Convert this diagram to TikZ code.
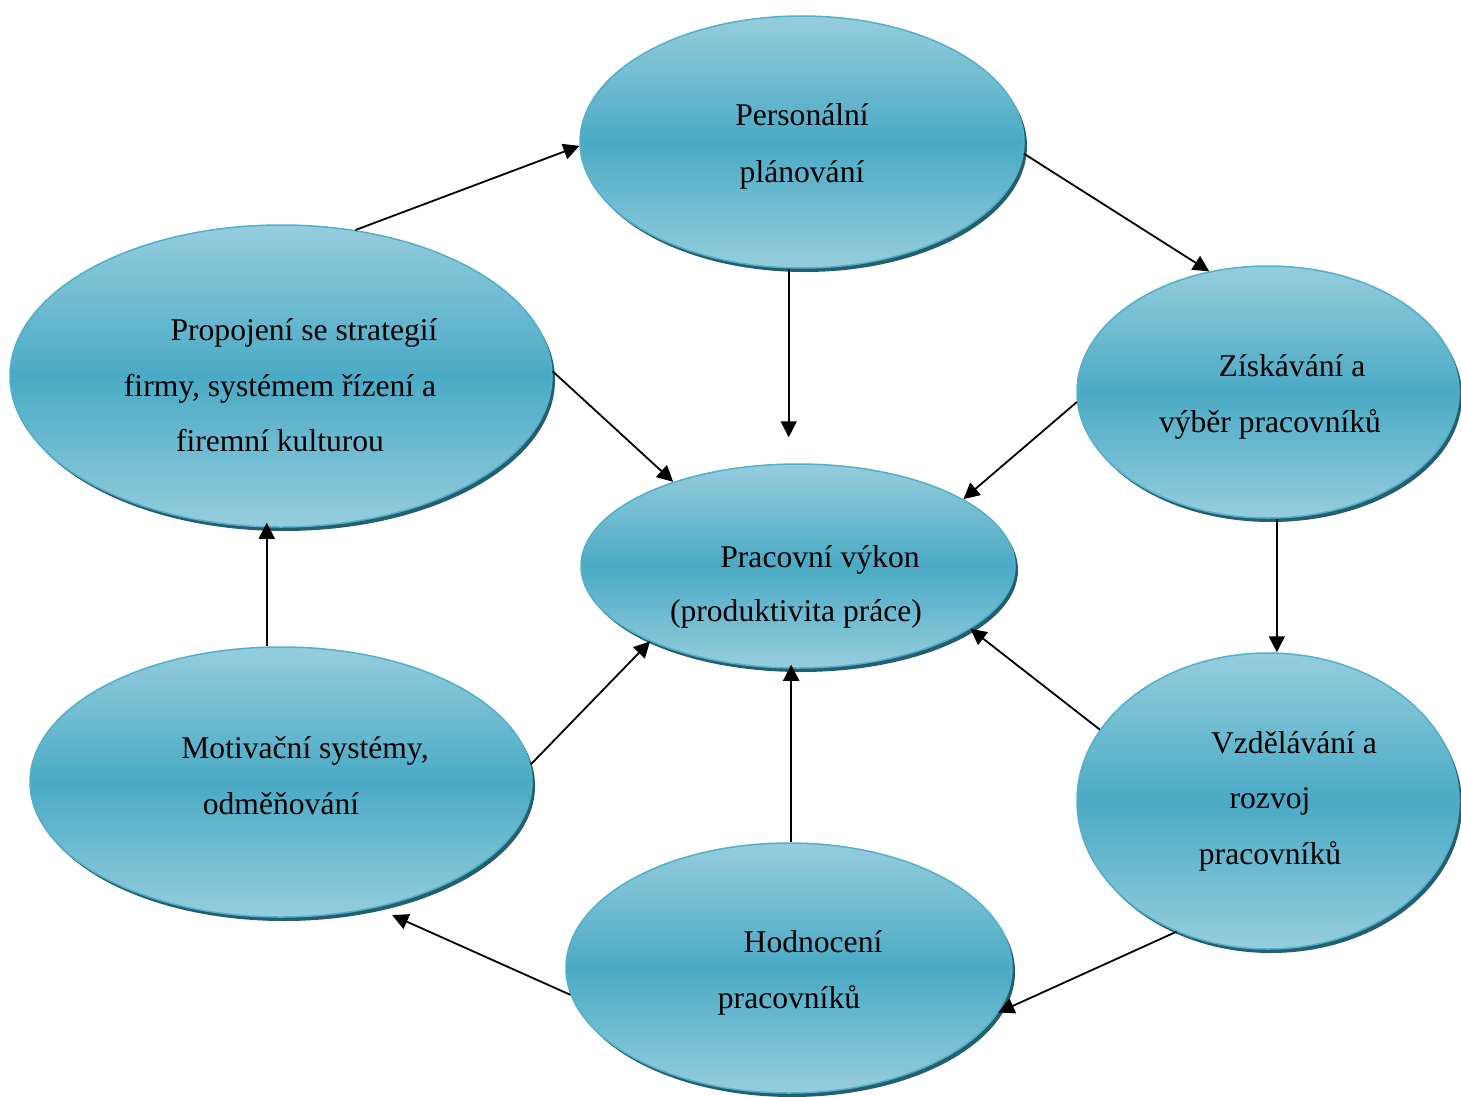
\documentclass[tikz,border=0pt]{standalone}
\usepackage{fontspec}
\setmainfont{Liberation Serif}
\usetikzlibrary{shapes.geometric,shadows,arrows.meta}
\definecolor{lightc}{HTML}{96CDDD}
\definecolor{midc}{HTML}{4AAAC5}
\definecolor{rimc}{HTML}{52B0C9}
\definecolor{shadc}{HTML}{245F6F}
\tikzset{
  oval/.style={ellipse, inner sep=0pt, draw=rimc, line width=1.5pt,
    top color=lightc, bottom color=lightc, middle color=midc,
    drop shadow={shadow xshift=3pt, shadow yshift=-4pt, fill=shadc, opacity=1}},
  lbl/.style={anchor=base, inner sep=0pt, font=\fontsize{31.6}{40}\selectfont},
  arr/.style={-{Triangle[length=16pt,width=16pt]}, line width=1.8pt, black}
}
\begin{document}
\begin{tikzpicture}[x=1pt,y=-1pt]
\useasboundingbox (0,0) rectangle (1461,1097);
% ellipses
\node[oval, minimum width=444pt, minimum height=252pt] (PL) at (802,142) {};
\node[oval, minimum width=542pt, minimum height=302pt] (P) at (281,376) {};
\node[oval, minimum width=382pt, minimum height=252pt] (Z) at (1268,392) {};
\node[oval, minimum width=434pt, minimum height=204pt] (V) at (798,566) {};
\node[oval, minimum width=502pt, minimum height=270pt] (M) at (281,782) {};
\node[oval, minimum width=382pt, minimum height=296pt] (VZ) at (1268,801) {};
\node[oval, minimum width=446pt, minimum height=250pt] (H) at (789,968) {};
% labels
\node[lbl] (tPLa) at (802,126) {Personální};
\node[lbl] (tPLb) at (802,182) {plánování};
\node[lbl] (tPa) at (304,340) {Propojení se strategií};
\node[lbl] (tPb) at (280,396) {firmy, systémem řízení a};
\node[lbl] (tPc) at (280,451) {firemní kulturou};
\node[lbl] (tZa) at (1292,376) {Získávání a};
\node[lbl] (tZb) at (1270,432) {výběr pracovníků};
\node[lbl] (tVa) at (820,567) {Pracovní výkon};
\node[lbl] (tVb) at (796,621) {(produktivita práce)};
\node[lbl] (tMa) at (305,758) {Motivační systémy,};
\node[lbl] (tMb) at (281,814) {odměňování};
\node[lbl] (tVZa) at (1294,753) {Vzdělávání a};
\node[lbl] (tVZb) at (1270,808) {rozvoj};
\node[lbl] (tVZc) at (1270,864) {pracovníků};
\node[lbl] (tHa) at (813,952) {Hodnocení};
\node[lbl] (tHb) at (789,1008) {pracovníků};
% connectors
\draw[arr] (P.63.9) -- (PL.181);
\draw[arr] (PL.357) -- (Z.116.7);
\draw[arr, shorten >=26pt] (PL.264.6) -- (PL.264.6 |- V.north);
\draw[arr] (P.1.3) -- (V.146.3);
\draw[arr] (Z.183) -- (V.22.8);
\draw[arr] (Z.274) -- (Z.274 |- VZ.north);
\draw[arr] (VZ.157.9) -- (V.340.4);
\draw[arr] (VZ.235) -- (H.348.6);
\draw[arr, shorten >=-4pt] (H.89.5) -- (H.89.5 |- V.south);
\draw[arr, shorten >=18pt] (H.187.4) -- (M.307.3);
\draw[arr] (M.4.3) -- (V.207.6);
\draw[arr, shorten >=-5pt] (M.96.8) -- (M.96.8 |- P.south);
\end{tikzpicture}
\end{document}
